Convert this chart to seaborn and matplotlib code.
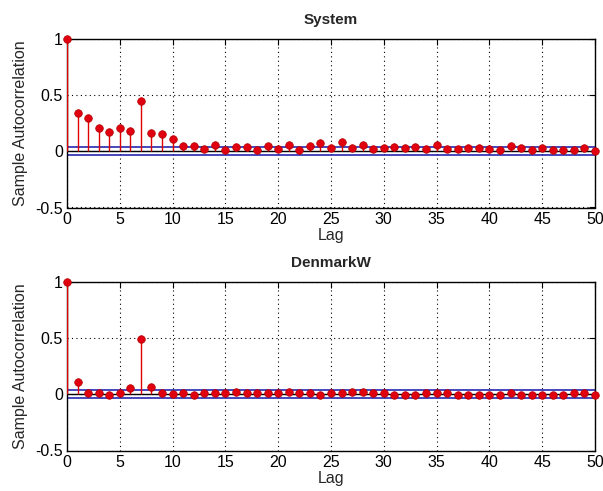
import numpy as np
import pandas as pd
import matplotlib
matplotlib.use("Agg")
import matplotlib.pyplot as plt
import seaborn as sns

lags = list(range(51))
system_acf = [1.00, 0.34, 0.30, 0.21, 0.17, 0.21, 0.18, 0.45, 0.16, 0.15,
              0.11, 0.05, 0.05, 0.02, 0.06, 0.01, 0.04, 0.04, 0.01, 0.05,
              0.02, 0.06, 0.01, 0.05, 0.07, 0.03, 0.08, 0.03, 0.06, 0.02,
              0.03, 0.04, 0.03, 0.04, 0.02, 0.06, 0.02, 0.02, 0.03, 0.03,
              0.02, 0.01, 0.05, 0.03, 0.01, 0.03, 0.01, 0.01, 0.01, 0.03,
              0.00]
denmark_acf = [1.00, 0.11, 0.01, 0.01, -0.01, 0.01, 0.06, 0.49, 0.065, 0.01,
               0.00, 0.01, -0.01, 0.01, 0.01, 0.01, 0.02, 0.01, 0.01, 0.01,
               0.01, 0.02, 0.01, 0.01, -0.01, 0.01, 0.01, 0.02, 0.02, 0.01,
               0.01, -0.005, -0.005, -0.005, 0.01, 0.01, 0.01, -0.005, -0.005, -0.005,
               -0.005, -0.005, 0.01, -0.005, -0.005, -0.005, -0.005, -0.005, 0.01, 0.01,
               -0.005]
bounds = [0.04, -0.035]
titles = ["System", "DenmarkW"]
xticks = [0, 5, 10, 15, 20, 25, 30, 35, 40, 45, 50]
yticks = [-0.5, 0, 0.5, 1]
yticklabels = ["-0.5", "0", "0.5", "1"]

sns.set_style("white")
plt.rcParams["font.family"] = ["Liberation Sans", "DejaVu Sans"]

fig = plt.figure(figsize=(6.03, 4.91), dpi=100)
W, H = 603, 491
def rect(l, t, r, b):
    return [l / W, 1 - b / H, (r - l) / W, (b - t) / H]

axes = [fig.add_axes(rect(67, 39, 595, 207.5)), fig.add_axes(rect(67, 282, 595, 450.5))]

for ax, vals, title in zip(axes, [system_acf, denmark_acf], titles):
    df = pd.DataFrame({"Lag": lags, "acf": vals})
    ax.vlines(df["Lag"], 0, df["acf"], color="#e00000", lw=1.0, zorder=3)
    ax.axhline(0, color="black", lw=1.0, zorder=2)
    for b in bounds:
        ax.axhline(b, color="#2828b0", lw=1.2, zorder=2)
    sns.scatterplot(data=df, x="Lag", y="acf", ax=ax, color="#e00010",
                    edgecolor="#b00000", linewidth=0.5, s=30, zorder=4,
                    clip_on=False, legend=False)
    ax.set_xlim(0, 50)
    ax.set_ylim(-0.5, 1)
    ax.set_xticks(xticks)
    ax.set_yticks(yticks)
    ax.set_yticklabels(yticklabels)
    ax.grid(True, linestyle=(0, (1, 3)), color="black", lw=0.8)
    ax.set_axisbelow(True)
    ax.tick_params(direction="in", length=4, labelsize=11.5, colors="black",
                   top=True, right=True, pad=3)
    for s in ax.spines.values():
        s.set_color("black")
        s.set_linewidth(1.0)
    ax.set_xlabel("Lag", fontsize=11.5, labelpad=1)
    ax.set_ylabel("Sample Autocorrelation", fontsize=11.5, labelpad=5)
    ax.set_title(title, fontsize=11, fontweight="bold", pad=11)

fig.savefig("out.png", dpi=100, facecolor="white")
